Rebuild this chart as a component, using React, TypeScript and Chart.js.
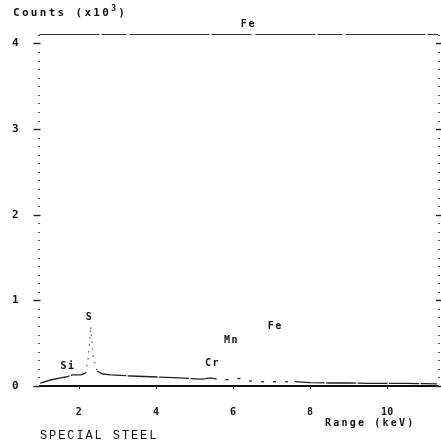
import React, { useEffect, useRef } from "react";
import { Chart, registerables } from "chart.js";

Chart.register(...registerables);

// Spectrum (energy in keV, counts in units of 10^3)
const energy = [1.0, 1.27, 1.53, 1.66, 1.84, 2.05, 2.18, 2.25, 2.31, 2.37, 2.47, 2.62, 2.83, 3.35, 4.05, 4.6, 5.16, 5.3, 5.4, 5.5, 5.63, 5.9, 6.15, 6.4, 6.71, 7.0, 7.36, 7.6, 8.0, 8.5, 9.0, 9.5, 10.0, 10.5, 11.0, 11.3];
const counts = [0.035, 0.07, 0.094, 0.105, 0.13, 0.13, 0.15, 0.35, 0.7, 0.35, 0.175, 0.14, 0.13, 0.117, 0.105, 0.095, 0.08, 0.085, 0.094, 0.085, 0.08, 0.07, 0.09, 0.06, 0.047, 0.05, 0.047, 0.05, 0.04, 0.035, 0.035, 0.03, 0.03, 0.03, 0.028, 0.025];

// Peak labels
const peakNames = ["Si", "S", "Cr", "Mn", "Fe", "Fe"];
const peakX = [1.72, 2.28, 5.47, 5.96, 7.1, 6.4];
const peakY = [0.23, 0.8, 0.26, 0.53, 0.7, 4.22];

// Axis tick labels
const yTickLabels = [0, 1, 2, 3, 4];
const xTickLabels = [2, 4, 6, 8, 10];

const X_MIN = 0.98;
const X_MAX = 11.32;
const Y_MIN = 0;
const Y_MAX = 4.11;

const decorPlugin = {
  id: "decor",
  afterDraw(chart: any) {
    const ctx = chart.ctx;
    const xs = chart.scales.x;
    const ys = chart.scales.y;
    const area = chart.chartArea;
    ctx.save();
    // top border (broken line)
    ctx.strokeStyle = "#333";
    ctx.lineWidth = 1;
    ctx.setLineDash([60, 2, 25, 3, 80, 2, 40, 4]);
    ctx.beginPath();
    ctx.moveTo(area.left, area.top + 0.5);
    ctx.lineTo(area.right, area.top + 0.5);
    ctx.stroke();
    ctx.setLineDash([]);
    // y ticks (minor every 0.1, major every 1), left and right
    for (let i = 0; i <= 41; i++) {
      const v = i / 10;
      const py = Math.round(ys.getPixelForValue(v)) + 0.5;
      const major = i % 10 === 0;
      ctx.strokeStyle = major ? "#222" : "#555";
      ctx.lineWidth = major ? 1.4 : 1;
      ctx.beginPath();
      if (major) {
        ctx.moveTo(area.left - 6, py);
        ctx.lineTo(area.left + 1, py);
      } else {
        ctx.moveTo(area.left - 1.5, py);
        ctx.lineTo(area.left + 0.5, py);
      }
      ctx.stroke();
      ctx.beginPath();
      if (major) {
        ctx.moveTo(area.right - 2, py);
        ctx.lineTo(area.right + 3, py);
      } else {
        ctx.moveTo(area.right, py);
        ctx.lineTo(area.right + 2, py);
      }
      ctx.stroke();
    }
    // x ticks at labelled values
    ctx.strokeStyle = "#333";
    ctx.lineWidth = 1;
    for (const v of xTickLabels) {
      const px = Math.round(xs.getPixelForValue(v)) + 0.5;
      ctx.beginPath();
      ctx.moveTo(px, area.bottom);
      ctx.lineTo(px, area.bottom + 3);
      ctx.stroke();
    }
    // peak labels
    ctx.fillStyle = "#111";
    ctx.font = "bold 10px 'DejaVu Sans Mono'";
    (ctx as any).letterSpacing = "1.5px";
    ctx.textAlign = "center";
    ctx.textBaseline = "middle";
    peakNames.forEach((n, i) => {
      ctx.fillText(n, xs.getPixelForValue(peakX[i]), ys.getPixelForValue(peakY[i]));
    });
    ctx.restore();
  },
};

export default function App() {
  const ref = useRef<HTMLCanvasElement>(null);
  useEffect(() => {
    document.body.style.margin = "0";
    const data = energy.map((e, i) => ({ x: e, y: counts[i] }));
    const chart = new Chart(ref.current!, {
      type: "line",
      data: {
        datasets: [
          {
            data,
            borderColor: "#222",
            borderWidth: 1.3,
            pointRadius: 0,
            tension: 0,
            segment: {
              borderDash: (c: any) => {
                const a = c.p0.parsed.y;
                const b = c.p1.parsed.y;
                if (a > 0.2 || b > 0.2) return [1, 6];
                const x0 = c.p0.parsed.x;
                if (x0 >= 5.5 && x0 < 7.4) return [3, 9];
                return [30, 1.5];
              },
            },
          },
        ],
      },
      options: {
        animation: false,
        responsive: false,
        maintainAspectRatio: false,
        layout: { padding: { left: 0, right: 3, top: 34, bottom: 0 } },
        plugins: { legend: { display: false }, tooltip: { enabled: false }, title: { display: false } },
        scales: {
          x: {
            type: "linear",
            min: X_MIN,
            max: X_MAX,
            afterBuildTicks: (s: any) => {
              s.ticks = xTickLabels.map((v) => ({ value: v }));
            },
            afterFit: (s: any) => {
              s.height = 445 - 386;
            },
            grid: { display: false },
            border: { display: true, color: "#111", width: 2 },
            ticks: {
              color: "#111",
              font: { family: "DejaVu Sans Mono", size: 10, weight: "bold" },
              padding: 12,
              maxRotation: 0,
              autoSkip: false,
            },
          },
          y: {
            min: Y_MIN,
            max: Y_MAX,
            afterBuildTicks: (s: any) => {
              s.ticks = yTickLabels.map((v) => ({ value: v }));
            },
            afterFit: (s: any) => {
              s.width = 39.5;
            },
            grid: { display: false },
            border: { display: false },
            ticks: {
              color: "#111",
              font: { family: "DejaVu Sans Mono", size: 11, weight: "bold" },
              padding: 13,
            },
          },
        },
      },
      plugins: [decorPlugin],
    });
    return () => chart.destroy();
  }, []);

  const txt: React.CSSProperties = { position: "absolute", whiteSpace: "nowrap", color: "#111" };
  return (
    <div style={{ position: "relative", width: 441, height: 445 }}>
      <canvas ref={ref} width={441} height={445} style={{ position: "absolute", left: 0, top: 0 }} />
      <div style={{ ...txt, left: 13, top: 4, font: "bold 11px 'DejaVu Sans Mono'", letterSpacing: "2.3px" }}>
        Counts (x10<sup style={{ fontSize: 8 }}>3</sup>)
      </div>
      <div style={{ ...txt, left: 325, top: 417, font: "bold 10px 'DejaVu Sans Mono'", letterSpacing: "2.2px" }}>
        Range (keV)
      </div>
      <div style={{ ...txt, left: 40, top: 429, font: "12px 'Liberation Mono'", letterSpacing: "1.9px" }}>
        SPECIAL STEEL
      </div>
    </div>
  );
}
